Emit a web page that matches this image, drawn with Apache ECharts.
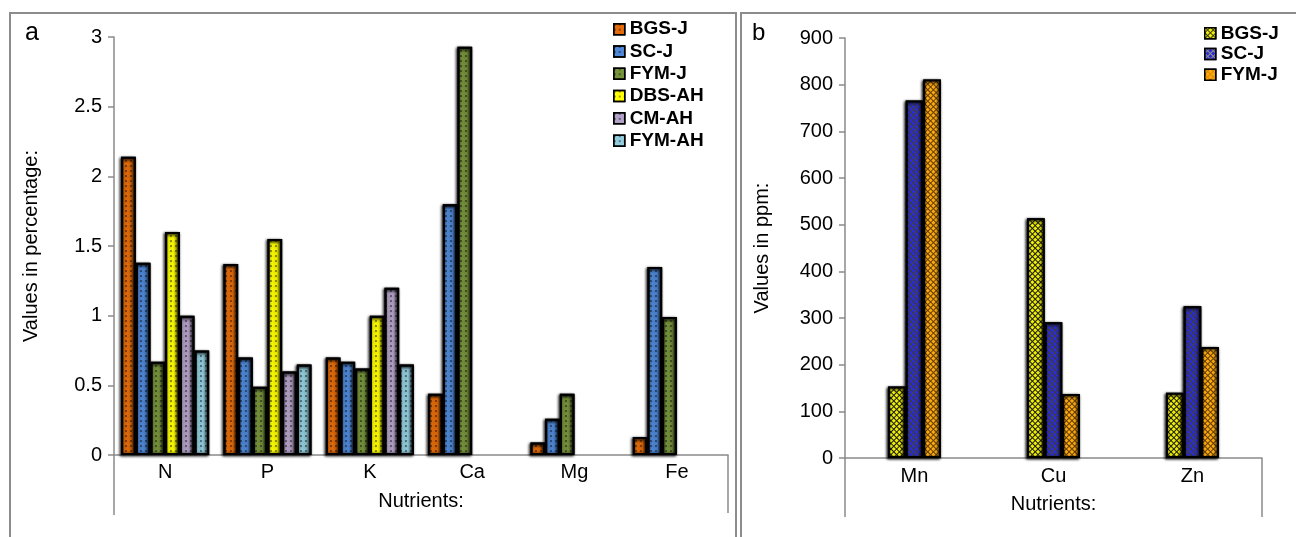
<!DOCTYPE html>
<html>
<head>
<meta charset="utf-8">
<script src="https://cdn.jsdelivr.net/npm/echarts@6/dist/echarts.min.js"></script>
<style>html,body{margin:0;padding:0;background:#fff;}#c{width:1296px;height:537px;}</style>
</head>
<body>
<div id="c"></div>
<script>
// ---- Data (panel a: %, panel b: ppm) ----
var catsA = ['N', 'P', 'K', 'Ca', 'Mg', 'Fe'];
var bgsJ_A  = [2.14, 1.37, 0.70, 0.44, 0.09, 0.13];
var scJ_A   = [1.38, 0.70, 0.67, 1.80, 0.26, 1.35];
var fymJ_A  = [0.67, 0.49, 0.62, 2.93, 0.44, 0.99];
var dbsAH_A = [1.60, 1.55, 1.00, null, null, null];
var cmAH_A  = [1.00, 0.60, 1.20, null, null, null];
var fymAH_A = [0.75, 0.65, 0.65, null, null, null];
var seriesNamesA = ['BGS-J', 'SC-J', 'FYM-J', 'DBS-AH', 'CM-AH', 'FYM-AH'];

var catsB = ['Mn', 'Cu', 'Zn'];
var bgsJ_B = [153, 514, 140];
var scJ_B  = [766, 291, 325];
var fymJ_B = [811, 137, 238];
var seriesNamesB = ['BGS-J', 'SC-J', 'FYM-J'];

var ticksA = {min: 0, max: 3, interval: 0.5};
var ticksB = {min: 0, max: 900, interval: 100};

// ---- Layout ----
var gA = {left: 114, right: 568, top: 37, bottom: 82};
var gB = {left: 845, right: 34, top: 38, bottom: 79};
var W = 1296, H = 537;
var axisGrey = '#8a8a8a';
var FONT = 'Liberation Sans, Arial, sans-serif';

var colorsA = ['#E46C0A', '#4F88D6', '#77933C', '#FFFF00', '#B3A2C7', '#93CDDD'];
var dataA = [bgsJ_A, scJ_A, fymJ_A, dbsAH_A, cmAH_A, fymAH_A];

var dotDecal = {
  symbol: 'circle', symbolSize: 0.9, color: 'rgba(0,0,0,0.6)',
  dashArrayX: [[2, 2.6]], dashArrayY: [2, 2.6]
};

var baseBar = {
  borderColor: '#000', borderWidth: 2,
  shadowBlur: 3, shadowColor: 'rgba(0,0,0,0.35)', shadowOffsetX: -1, shadowOffsetY: 1
};

var series = [];
seriesNamesA.forEach(function (n, i) {
  series.push({
    name: n, type: 'bar', xAxisIndex: 0, yAxisIndex: 0,
    data: dataA[i], barGap: '0%', barCategoryGap: '14%',
    itemStyle: Object.assign({}, baseBar, {color: colorsA[i], decal: dotDecal})
  });
});

// panel b: base colour = mesh line colour, decal = rotated squares (fill)
var meshB = [
  {base: '#3b3b05', fill: '#EEEE10'},
  {base: '#8f8f80', fill: '#2A2AE0'},
  {base: '#E08800', fill: '#FBAA12'}
];
var dataB = [bgsJ_B, scJ_B, fymJ_B];
seriesNamesB.forEach(function (n, i) {
  series.push({
    name: n + ' ', type: 'bar', xAxisIndex: 1, yAxisIndex: 1,
    data: dataB[i], barGap: '0%', barCategoryGap: '62%',
    itemStyle: Object.assign({}, baseBar, {
      color: meshB[i].base,
      decal: {
        symbol: 'rect', symbolSize: 1, color: meshB[i].fill,
        dashArrayX: [[2.2, 0.9]], dashArrayY: [2.2, 0.9], rotation: Math.PI / 4
      }
    })
  });
});

function yAxis(gridIndex, t, name, gap) {
  return {
    type: 'value', gridIndex: gridIndex, min: t.min, max: t.max, interval: t.interval,
    name: name, nameLocation: 'middle', nameGap: gap, nameRotate: 90,
    nameTextStyle: {fontFamily: FONT, fontSize: 20, color: '#000'},
    axisLine: {show: true, lineStyle: {color: axisGrey, width: 1.5}},
    axisTick: {show: true, length: 6, lineStyle: {color: axisGrey, width: 1.5}},
    axisLabel: {fontFamily: FONT, fontSize: 20, color: '#000', margin: 12},
    splitLine: {show: false}
  };
}
function xAxis(gridIndex, cats, gap, margin) {
  return {
    type: 'category', gridIndex: gridIndex, data: cats,
    name: 'Nutrients:', nameLocation: 'middle', nameGap: gap,
    nameTextStyle: {fontFamily: FONT, fontSize: 20, color: '#000'},
    axisLine: {show: true, onZero: false, lineStyle: {color: axisGrey, width: 1.5}},
    axisTick: {show: false},
    axisLabel: {fontFamily: FONT, fontSize: 20, color: '#000', margin: margin}
  };
}

var chart = echarts.init(document.getElementById('c'), null, {renderer: 'canvas'});

var lineStyle = {stroke: axisGrey, lineWidth: 1.5};
var graphics = [
  {type: 'rect', shape: {x: 10, y: 13, width: 726, height: 700}, style: {fill: 'none', stroke: '#8c8c8c', lineWidth: 2}, z: 0, silent: true},
  {type: 'rect', shape: {x: 741, y: 13, width: 700, height: 700}, style: {fill: 'none', stroke: '#8c8c8c', lineWidth: 2}, z: 0, silent: true},
  {type: 'text', left: 25, top: 21, style: {text: 'a', fontFamily: FONT, fontSize: 25, fill: '#000'}},
  {type: 'text', left: 752, top: 21, style: {text: 'b', fontFamily: FONT, fontSize: 24, fill: '#000'}},
  // Excel-style axis frame extensions below the category axis
  {type: 'line', shape: {x1: gA.left, y1: H - gA.bottom, x2: gA.left, y2: 515}, style: lineStyle, silent: true},
  {type: 'line', shape: {x1: W - gA.right, y1: H - gA.bottom, x2: W - gA.right, y2: 513}, style: lineStyle, silent: true},
  {type: 'line', shape: {x1: gB.left, y1: H - gB.bottom, x2: gB.left, y2: 517}, style: lineStyle, silent: true},
  {type: 'line', shape: {x1: W - gB.right, y1: H - gB.bottom, x2: W - gB.right, y2: 517}, style: lineStyle, silent: true}
];

chart.setOption({
  animation: false,
  backgroundColor: '#fff',
  grid: [
    {left: gA.left, right: gA.right, top: gA.top, bottom: gA.bottom},
    {left: gB.left, right: gB.right, top: gB.top, bottom: gB.bottom}
  ],
  legend: [
    {data: seriesNamesA, left: 613, top: 18, orient: 'vertical', itemWidth: 11, itemHeight: 11,
     itemGap: 0, padding: 0, icon: 'rect',
     textStyle: {fontFamily: FONT, fontSize: 19, fontWeight: 'bold', color: '#000', lineHeight: 22.3},
     itemStyle: {borderColor: '#000', borderWidth: 1.5}},
    {data: seriesNamesB.map(function (n) { return n + ' '; }), left: 1204, top: 23, orient: 'vertical',
     itemWidth: 11, itemHeight: 11, itemGap: 0, padding: 0, icon: 'rect',
     textStyle: {fontFamily: FONT, fontSize: 19, fontWeight: 'bold', color: '#000', lineHeight: 20.7},
     itemStyle: {borderColor: '#000', borderWidth: 1.5}}
  ],
  xAxis: [xAxis(0, catsA, 36, 7), xAxis(1, catsB, 36, 8)],
  yAxis: [yAxis(0, ticksA, 'Values in percentage:', 73), yAxis(1, ticksB, 'Values in ppm:', 73)],
  series: series,
  graphic: graphics
});
</script>
</body>
</html>
